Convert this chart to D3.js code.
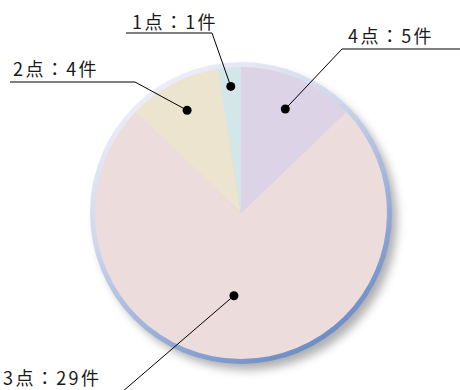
<!DOCTYPE html>
<html>
<head>
<meta charset="utf-8">
<script src="https://cdn.jsdelivr.net/npm/d3@7"></script>
<style>
  body { margin: 0; background: #fff; }
  svg { display: block; }
</style>
</head>
<body>
<div id="chart"></div>
<script>
// data
const categories = ['4点', '3点', '2点', '1点'];
const counts = [5, 29, 4, 1];
const labels = ['4点：5件', '3点：29件', '2点：4件', '1点：1件'];
const colors = ['#dcd3e6', '#ecdcdc', '#ede4d0', '#d3e7e8'];

const width = 460;
const height = 390;
const cx = 241, cy = 213;
const radius = 146;

// label layout: dot radius / angle shift + where the underlined text sits
const layout = [
  { dotR: 113, da: 0, tx: 348, ty: 43, lx1: 342, lx2: 460, ly: 49 },
  { dotR: 83, da: 0.085, tx: 3, ty: 385, end: [122, 392] },
  { dotR: 116, da: 0, tx: 13, ty: 76, lx1: 10, lx2: 135, ly: 82 },
  { dotR: 127, da: 0, tx: 132, ty: 29, lx1: 126, lx2: 212, ly: 33 }
];

const svg = d3.select('#chart')
  .append('svg')
  .attr('width', width)
  .attr('height', height);

const defs = svg.append('defs');

const grad = defs.append('linearGradient')
  .attr('id', 'rim')
  .attr('x1', '0.1').attr('y1', '0')
  .attr('x2', '0.7').attr('y2', '1');
grad.append('stop').attr('offset', '0').attr('stop-color', '#f6f6fb');
grad.append('stop').attr('offset', '0.4').attr('stop-color', '#d0d8ec');
grad.append('stop').attr('offset', '1').attr('stop-color', '#6a8ac6');

const blur = defs.append('filter')
  .attr('id', 'shadow')
  .attr('x', '-20%').attr('y', '-20%')
  .attr('width', '140%').attr('height', '140%');
blur.append('feGaussianBlur').attr('stdDeviation', 5);

const g = svg.append('g')
  .attr('transform', 'translate(' + cx + ',' + cy + ')');

// drop shadow
g.append('circle')
  .attr('cx', 6).attr('cy', 7)
  .attr('r', radius + 4)
  .attr('fill', '#7a7a7a')
  .attr('opacity', 0.6)
  .attr('filter', 'url(#shadow)');

// bevel rim
g.append('circle')
  .attr('r', radius + 5)
  .attr('fill', 'url(#rim)');

const pie = d3.pie().sort(null).value((d) => d)(counts);
const arc = d3.arc().innerRadius(0).outerRadius(radius);

g.selectAll('path.slice')
  .data(pie)
  .join('path')
  .attr('class', 'slice')
  .attr('d', arc)
  .attr('fill', (d, i) => colors[i]);

// dots near mid-angle
const dotPos = pie.map((d, i) => {
  const a = (d.startAngle + d.endAngle) / 2 + layout[i].da;
  return [cx + layout[i].dotR * Math.sin(a), cy - layout[i].dotR * Math.cos(a)];
});

// leader lines
const leaders = svg.append('g')
  .attr('fill', 'none')
  .attr('stroke', '#000')
  .attr('stroke-width', 1);
layout.forEach((l, i) => {
  const p = dotPos[i];
  if (l.end) {
    leaders.append('line')
      .attr('x1', p[0]).attr('y1', p[1])
      .attr('x2', l.end[0]).attr('y2', l.end[1]);
    return;
  }
  leaders.append('line')
    .attr('x1', l.lx1).attr('y1', l.ly)
    .attr('x2', l.lx2).attr('y2', l.ly);
  const jx = p[0] < l.lx1 ? l.lx1 : l.lx2;
  leaders.append('line')
    .attr('x1', jx).attr('y1', l.ly)
    .attr('x2', p[0]).attr('y2', p[1]);
});

svg.append('g')
  .selectAll('circle')
  .data(dotPos)
  .join('circle')
  .attr('cx', (d) => d[0])
  .attr('cy', (d) => d[1])
  .attr('r', 4.5)
  .attr('fill', '#000');

svg.append('g')
  .selectAll('text')
  .data(labels)
  .join('text')
  .attr('x', (d, i) => layout[i].tx)
  .attr('y', (d, i) => layout[i].ty)
  .attr('font-family', '"Noto Sans CJK JP", sans-serif')
  .attr('font-size', 18)
  .attr('letter-spacing', 2.4)
  .attr('fill', '#1a1a1a')
  .text((d) => d);
</script>
</body>
</html>
